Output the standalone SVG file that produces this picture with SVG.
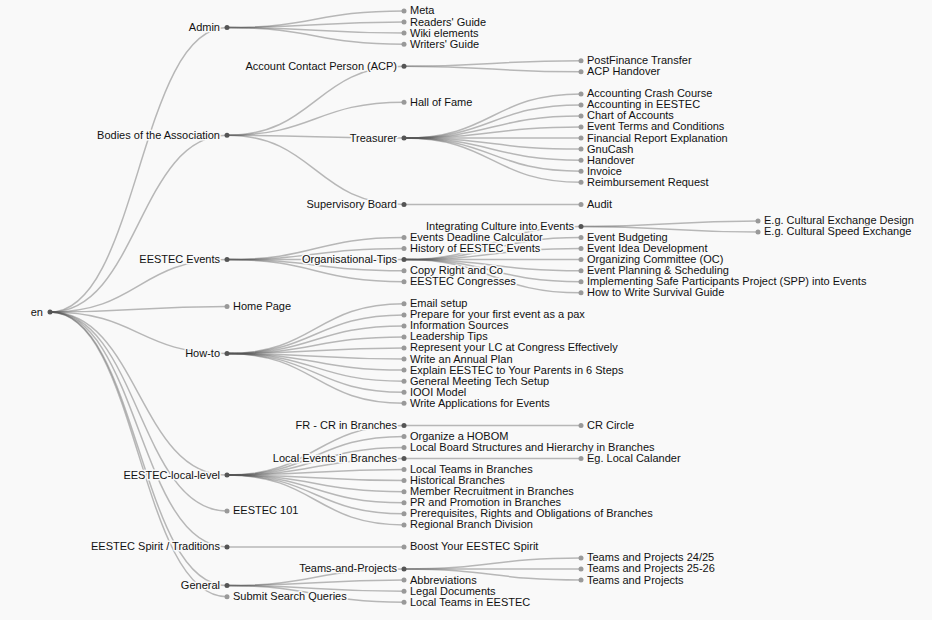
<svg xmlns="http://www.w3.org/2000/svg" width="932" height="620" viewBox="0 0 932 620">
<style>
.links path{fill:none;stroke:#555;stroke-opacity:0.4;stroke-width:1.5}
.p circle{fill:#555}
.l circle{fill:#999}
.node text{font-family:"Liberation Sans",Arial,sans-serif;font-size:11px;fill:#111;stroke:#f9f9f9;stroke-width:3;stroke-linejoin:round;paint-order:stroke}
.p text{text-anchor:end}
.l text{text-anchor:start}
</style>
<rect width="932" height="620" fill="#f9f9f9"/>
<g class="links" id="connectors">
<path d="M50,312.1C138.5,312.1 138.5,27.6 227,27.6"/>
<path d="M50,312.1C138.5,312.1 138.5,135.3 227,135.3"/>
<path d="M50,312.1C138.5,312.1 138.5,259.6 227,259.6"/>
<path d="M50,312.1C138.5,312.1 138.5,306.6 227,306.6"/>
<path d="M50,312.1C138.5,312.1 138.5,353.6 227,353.6"/>
<path d="M50,312.1C138.5,312.1 138.5,475.1 227,475.1"/>
<path d="M50,312.1C138.5,312.1 138.5,511 227,511"/>
<path d="M50,312.1C138.5,312.1 138.5,546.9 227,546.9"/>
<path d="M50,312.1C138.5,312.1 138.5,585.6 227,585.6"/>
<path d="M50,312.1C138.5,312.1 138.5,596.7 227,596.7"/>
<path d="M227,27.6C315.5,27.6 315.5,11 404,11"/>
<path d="M227,27.6C315.5,27.6 315.5,22.1 404,22.1"/>
<path d="M227,27.6C315.5,27.6 315.5,33.1 404,33.1"/>
<path d="M227,27.6C315.5,27.6 315.5,44.2 404,44.2"/>
<path d="M227,135.3C315.5,135.3 315.5,66.3 404,66.3"/>
<path d="M227,135.3C315.5,135.3 315.5,102.2 404,102.2"/>
<path d="M227,135.3C315.5,135.3 315.5,138.1 404,138.1"/>
<path d="M227,135.3C315.5,135.3 315.5,204.4 404,204.4"/>
<path d="M404,66.3C492.5,66.3 492.5,60.7 581,60.7"/>
<path d="M404,66.3C492.5,66.3 492.5,71.8 581,71.8"/>
<path d="M404,138.1C492.5,138.1 492.5,93.9 581,93.9"/>
<path d="M404,138.1C492.5,138.1 492.5,104.9 581,104.9"/>
<path d="M404,138.1C492.5,138.1 492.5,116 581,116"/>
<path d="M404,138.1C492.5,138.1 492.5,127 581,127"/>
<path d="M404,138.1C492.5,138.1 492.5,138.1 581,138.1"/>
<path d="M404,138.1C492.5,138.1 492.5,149.1 581,149.1"/>
<path d="M404,138.1C492.5,138.1 492.5,160.2 581,160.2"/>
<path d="M404,138.1C492.5,138.1 492.5,171.2 581,171.2"/>
<path d="M404,138.1C492.5,138.1 492.5,182.3 581,182.3"/>
<path d="M404,204.4C492.5,204.4 492.5,204.4 581,204.4"/>
<path d="M227,259.6C315.5,259.6 315.5,237.5 404,237.5"/>
<path d="M227,259.6C315.5,259.6 315.5,248.6 404,248.6"/>
<path d="M227,259.6C315.5,259.6 315.5,259.6 404,259.6"/>
<path d="M227,259.6C315.5,259.6 315.5,270.7 404,270.7"/>
<path d="M227,259.6C315.5,259.6 315.5,281.7 404,281.7"/>
<path d="M404,259.6C492.5,259.6 492.5,226.5 581,226.5"/>
<path d="M404,259.6C492.5,259.6 492.5,237.5 581,237.5"/>
<path d="M404,259.6C492.5,259.6 492.5,248.6 581,248.6"/>
<path d="M404,259.6C492.5,259.6 492.5,259.6 581,259.6"/>
<path d="M404,259.6C492.5,259.6 492.5,270.7 581,270.7"/>
<path d="M404,259.6C492.5,259.6 492.5,281.7 581,281.7"/>
<path d="M404,259.6C492.5,259.6 492.5,292.8 581,292.8"/>
<path d="M581,226.5C669.5,226.5 669.5,221 758,221"/>
<path d="M581,226.5C669.5,226.5 669.5,232 758,232"/>
<path d="M227,353.6C315.5,353.6 315.5,303.8 404,303.8"/>
<path d="M227,353.6C315.5,353.6 315.5,314.9 404,314.9"/>
<path d="M227,353.6C315.5,353.6 315.5,325.9 404,325.9"/>
<path d="M227,353.6C315.5,353.6 315.5,337 404,337"/>
<path d="M227,353.6C315.5,353.6 315.5,348 404,348"/>
<path d="M227,353.6C315.5,353.6 315.5,359.1 404,359.1"/>
<path d="M227,353.6C315.5,353.6 315.5,370.1 404,370.1"/>
<path d="M227,353.6C315.5,353.6 315.5,381.2 404,381.2"/>
<path d="M227,353.6C315.5,353.6 315.5,392.2 404,392.2"/>
<path d="M227,353.6C315.5,353.6 315.5,403.3 404,403.3"/>
<path d="M227,475.1C315.5,475.1 315.5,425.4 404,425.4"/>
<path d="M227,475.1C315.5,475.1 315.5,436.5 404,436.5"/>
<path d="M227,475.1C315.5,475.1 315.5,447.5 404,447.5"/>
<path d="M227,475.1C315.5,475.1 315.5,458.6 404,458.6"/>
<path d="M227,475.1C315.5,475.1 315.5,469.6 404,469.6"/>
<path d="M227,475.1C315.5,475.1 315.5,480.6 404,480.6"/>
<path d="M227,475.1C315.5,475.1 315.5,491.7 404,491.7"/>
<path d="M227,475.1C315.5,475.1 315.5,502.8 404,502.8"/>
<path d="M227,475.1C315.5,475.1 315.5,513.8 404,513.8"/>
<path d="M227,475.1C315.5,475.1 315.5,524.9 404,524.9"/>
<path d="M404,425.4C492.5,425.4 492.5,425.4 581,425.4"/>
<path d="M404,458.6C492.5,458.6 492.5,458.6 581,458.6"/>
<path d="M227,546.9C315.5,546.9 315.5,546.9 404,546.9"/>
<path d="M227,585.6C315.5,585.6 315.5,569 404,569"/>
<path d="M227,585.6C315.5,585.6 315.5,580.1 404,580.1"/>
<path d="M227,585.6C315.5,585.6 315.5,591.2 404,591.2"/>
<path d="M227,585.6C315.5,585.6 315.5,602.2 404,602.2"/>
<path d="M404,569C492.5,569 492.5,558 581,558"/>
<path d="M404,569C492.5,569 492.5,569 581,569"/>
<path d="M404,569C492.5,569 492.5,580.1 581,580.1"/>
</g>
<g id="nodes">
<g id="n-en" class="node p" transform="translate(50,312.1)"><circle r="2.5"/><text x="-7" dy="0.31em">en</text></g>
<g id="n-admin" class="node p" transform="translate(227,27.6)"><circle r="2.5"/><text x="-7" dy="0.31em">Admin</text></g>
<g id="n-bodies" class="node p" transform="translate(227,135.3)"><circle r="2.5"/><text x="-7" dy="0.31em">Bodies of the Association</text></g>
<g id="n-events" class="node p" transform="translate(227,259.6)"><circle r="2.5"/><text x="-7" dy="0.31em">EESTEC Events</text></g>
<g id="n-home" class="node l" transform="translate(227,306.6)"><circle r="2.5"/><text x="6" dy="0.31em">Home Page</text></g>
<g id="n-howto" class="node p" transform="translate(227,353.6)"><circle r="2.5"/><text x="-7" dy="0.31em">How-to</text></g>
<g id="n-local" class="node p" transform="translate(227,475.1)"><circle r="2.5"/><text x="-7" dy="0.31em">EESTEC-local-level</text></g>
<g id="n-101" class="node l" transform="translate(227,511)"><circle r="2.5"/><text x="6" dy="0.31em">EESTEC 101</text></g>
<g id="n-spirit" class="node p" transform="translate(227,546.9)"><circle r="2.5"/><text x="-7" dy="0.31em">EESTEC Spirit / Traditions</text></g>
<g id="n-general" class="node p" transform="translate(227,585.6)"><circle r="2.5"/><text x="-7" dy="0.31em">General</text></g>
<g id="n-submit" class="node l" transform="translate(227,596.7)"><circle r="2.5"/><text x="6" dy="0.31em">Submit Search Queries</text></g>

<g id="n-meta" class="node l" transform="translate(404,11)"><circle r="2.5"/><text x="6" dy="0.31em">Meta</text></g>
<g id="n-readers" class="node l" transform="translate(404,22.1)"><circle r="2.5"/><text x="6" dy="0.31em">Readers' Guide</text></g>
<g id="n-wiki" class="node l" transform="translate(404,33.1)"><circle r="2.5"/><text x="6" dy="0.31em">Wiki elements</text></g>
<g id="n-writers" class="node l" transform="translate(404,44.2)"><circle r="2.5"/><text x="6" dy="0.31em">Writers' Guide</text></g>
<g id="n-acp" class="node p" transform="translate(404,66.3)"><circle r="2.5"/><text x="-7" dy="0.31em">Account Contact Person (ACP)</text></g>
<g id="n-hall" class="node l" transform="translate(404,102.2)"><circle r="2.5"/><text x="6" dy="0.31em">Hall of Fame</text></g>
<g id="n-treasurer" class="node p" transform="translate(404,138.1)"><circle r="2.5"/><text x="-7" dy="0.31em">Treasurer</text></g>
<g id="n-supervisory" class="node p" transform="translate(404,204.4)"><circle r="2.5"/><text x="-7" dy="0.31em">Supervisory Board</text></g>
<g id="n-deadline" class="node l" transform="translate(404,237.5)"><circle r="2.5"/><text x="6" dy="0.31em">Events Deadline Calculator</text></g>
<g id="n-history" class="node l" transform="translate(404,248.6)"><circle r="2.5"/><text x="6" dy="0.31em">History of EESTEC Events</text></g>
<g id="n-orgtips" class="node p" transform="translate(404,259.6)"><circle r="2.5"/><text x="-7" dy="0.31em">Organisational-Tips</text></g>
<g id="n-copyright" class="node l" transform="translate(404,270.7)"><circle r="2.5"/><text x="6" dy="0.31em">Copy Right and Co</text></g>
<g id="n-congresses" class="node l" transform="translate(404,281.7)"><circle r="2.5"/><text x="6" dy="0.31em">EESTEC Congresses</text></g>
<g id="n-email" class="node l" transform="translate(404,303.8)"><circle r="2.5"/><text x="6" dy="0.31em">Email setup</text></g>
<g id="n-prepare" class="node l" transform="translate(404,314.9)"><circle r="2.5"/><text x="6" dy="0.31em">Prepare for your first event as a pax</text></g>
<g id="n-info" class="node l" transform="translate(404,325.9)"><circle r="2.5"/><text x="6" dy="0.31em">Information Sources</text></g>
<g id="n-leadership" class="node l" transform="translate(404,337)"><circle r="2.5"/><text x="6" dy="0.31em">Leadership Tips</text></g>
<g id="n-represent" class="node l" transform="translate(404,348)"><circle r="2.5"/><text x="6" dy="0.31em">Represent your LC at Congress Effectively</text></g>
<g id="n-annual" class="node l" transform="translate(404,359.1)"><circle r="2.5"/><text x="6" dy="0.31em">Write an Annual Plan</text></g>
<g id="n-explain" class="node l" transform="translate(404,370.1)"><circle r="2.5"/><text x="6" dy="0.31em">Explain EESTEC to Your Parents in 6 Steps</text></g>
<g id="n-gmtech" class="node l" transform="translate(404,381.2)"><circle r="2.5"/><text x="6" dy="0.31em">General Meeting Tech Setup</text></g>
<g id="n-iooi" class="node l" transform="translate(404,392.2)"><circle r="2.5"/><text x="6" dy="0.31em">IOOI Model</text></g>
<g id="n-applications" class="node l" transform="translate(404,403.3)"><circle r="2.5"/><text x="6" dy="0.31em">Write Applications for Events</text></g>
<g id="n-frcr" class="node p" transform="translate(404,425.4)"><circle r="2.5"/><text x="-7" dy="0.31em">FR - CR in Branches</text></g>
<g id="n-hobom" class="node l" transform="translate(404,436.5)"><circle r="2.5"/><text x="6" dy="0.31em">Organize a HOBOM</text></g>
<g id="n-localboard" class="node l" transform="translate(404,447.5)"><circle r="2.5"/><text x="6" dy="0.31em">Local Board Structures and Hierarchy in Branches</text></g>
<g id="n-localevents" class="node p" transform="translate(404,458.6)"><circle r="2.5"/><text x="-7" dy="0.31em">Local Events in Branches</text></g>
<g id="n-localteams" class="node l" transform="translate(404,469.6)"><circle r="2.5"/><text x="6" dy="0.31em">Local Teams in Branches</text></g>
<g id="n-historical" class="node l" transform="translate(404,480.6)"><circle r="2.5"/><text x="6" dy="0.31em">Historical Branches</text></g>
<g id="n-recruit" class="node l" transform="translate(404,491.7)"><circle r="2.5"/><text x="6" dy="0.31em">Member Recruitment in Branches</text></g>
<g id="n-pr" class="node l" transform="translate(404,502.8)"><circle r="2.5"/><text x="6" dy="0.31em">PR and Promotion in Branches</text></g>
<g id="n-prereq" class="node l" transform="translate(404,513.8)"><circle r="2.5"/><text x="6" dy="0.31em">Prerequisites, Rights and Obligations of Branches</text></g>
<g id="n-regional" class="node l" transform="translate(404,524.9)"><circle r="2.5"/><text x="6" dy="0.31em">Regional Branch Division</text></g>
<g id="n-boost" class="node l" transform="translate(404,546.9)"><circle r="2.5"/><text x="6" dy="0.31em">Boost Your EESTEC Spirit</text></g>
<g id="n-tap" class="node p" transform="translate(404,569)"><circle r="2.5"/><text x="-7" dy="0.31em">Teams-and-Projects</text></g>
<g id="n-abbrev" class="node l" transform="translate(404,580.1)"><circle r="2.5"/><text x="6" dy="0.31em">Abbreviations</text></g>
<g id="n-legal" class="node l" transform="translate(404,591.2)"><circle r="2.5"/><text x="6" dy="0.31em">Legal Documents</text></g>
<g id="n-lteestec" class="node l" transform="translate(404,602.2)"><circle r="2.5"/><text x="6" dy="0.31em">Local Teams in EESTEC</text></g>

<g id="n-postfinance" class="node l" transform="translate(581,60.7)"><circle r="2.5"/><text x="6" dy="0.31em">PostFinance Transfer</text></g>
<g id="n-acphandover" class="node l" transform="translate(581,71.8)"><circle r="2.5"/><text x="6" dy="0.31em">ACP Handover</text></g>
<g id="n-crash" class="node l" transform="translate(581,93.9)"><circle r="2.5"/><text x="6" dy="0.31em">Accounting Crash Course</text></g>
<g id="n-acceestec" class="node l" transform="translate(581,104.9)"><circle r="2.5"/><text x="6" dy="0.31em">Accounting in EESTEC</text></g>
<g id="n-chart" class="node l" transform="translate(581,116)"><circle r="2.5"/><text x="6" dy="0.31em">Chart of Accounts</text></g>
<g id="n-terms" class="node l" transform="translate(581,127)"><circle r="2.5"/><text x="6" dy="0.31em">Event Terms and Conditions</text></g>
<g id="n-financial" class="node l" transform="translate(581,138.1)"><circle r="2.5"/><text x="6" dy="0.31em">Financial Report Explanation</text></g>
<g id="n-gnucash" class="node l" transform="translate(581,149.1)"><circle r="2.5"/><text x="6" dy="0.31em">GnuCash</text></g>
<g id="n-handover" class="node l" transform="translate(581,160.2)"><circle r="2.5"/><text x="6" dy="0.31em">Handover</text></g>
<g id="n-invoice" class="node l" transform="translate(581,171.2)"><circle r="2.5"/><text x="6" dy="0.31em">Invoice</text></g>
<g id="n-reimb" class="node l" transform="translate(581,182.3)"><circle r="2.5"/><text x="6" dy="0.31em">Reimbursement Request</text></g>
<g id="n-audit" class="node l" transform="translate(581,204.4)"><circle r="2.5"/><text x="6" dy="0.31em">Audit</text></g>
<g id="n-culture" class="node p" transform="translate(581,226.5)"><circle r="2.5"/><text x="-7" dy="0.31em">Integrating Culture into Events</text></g>
<g id="n-budget" class="node l" transform="translate(581,237.5)"><circle r="2.5"/><text x="6" dy="0.31em">Event Budgeting</text></g>
<g id="n-idea" class="node l" transform="translate(581,248.6)"><circle r="2.5"/><text x="6" dy="0.31em">Event Idea Development</text></g>
<g id="n-oc" class="node l" transform="translate(581,259.6)"><circle r="2.5"/><text x="6" dy="0.31em">Organizing Committee (OC)</text></g>
<g id="n-planning" class="node l" transform="translate(581,270.7)"><circle r="2.5"/><text x="6" dy="0.31em">Event Planning &amp; Scheduling</text></g>
<g id="n-spp" class="node l" transform="translate(581,281.7)"><circle r="2.5"/><text x="6" dy="0.31em">Implementing Safe Participants Project (SPP) into Events</text></g>
<g id="n-survival" class="node l" transform="translate(581,292.8)"><circle r="2.5"/><text x="6" dy="0.31em">How to Write Survival Guide</text></g>
<g id="n-crcircle" class="node l" transform="translate(581,425.4)"><circle r="2.5"/><text x="6" dy="0.31em">CR Circle</text></g>
<g id="n-calander" class="node l" transform="translate(581,458.6)"><circle r="2.5"/><text x="6" dy="0.31em">Eg. Local Calander</text></g>
<g id="n-tp2425" class="node l" transform="translate(581,558)"><circle r="2.5"/><text x="6" dy="0.31em">Teams and Projects 24/25</text></g>
<g id="n-tp2526" class="node l" transform="translate(581,569)"><circle r="2.5"/><text x="6" dy="0.31em">Teams and Projects 25-26</text></g>
<g id="n-tp" class="node l" transform="translate(581,580.1)"><circle r="2.5"/><text x="6" dy="0.31em">Teams and Projects</text></g>

<g id="n-ced" class="node l" transform="translate(758,221)"><circle r="2.5"/><text x="6" dy="0.31em">E.g. Cultural Exchange Design</text></g>
<g id="n-cse" class="node l" transform="translate(758,232)"><circle r="2.5"/><text x="6" dy="0.31em">E.g. Cultural Speed Exchange</text></g>
</g>
</svg>
